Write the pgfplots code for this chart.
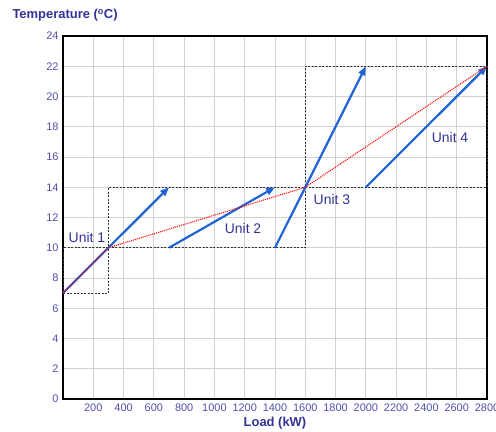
\documentclass[border=0pt]{standalone}
\usepackage{fontspec}
\setmainfont{Liberation Sans}
\usepackage{pgfplots}
\pgfplotsset{compat=1.18}
\usetikzlibrary{arrows.meta}
\definecolor{tickblue}{RGB}{80,80,175}
\definecolor{labblue}{RGB}{50,50,150}
\definecolor{arrowblue}{RGB}{30,100,210}
\begin{document}
\begin{tikzpicture}
\begin{axis}[
  name=ax,
  scale only axis, width=424bp, height=363bp,
  xmin=0, xmax=2800, ymin=0, ymax=24,
  xtick={200,400,...,2800}, ytick={0,2,...,24},
  grid=major, grid style={line width=0.8bp, color=black!18},
  axis line style={line width=1.6bp},
  major tick length=0pt,
  tick label style={font=\fontsize{11}{13}\selectfont, text=tickblue},
  /pgf/number format/assume math mode=true,
  /pgf/number format/1000 sep={},
  xticklabel style={yshift=-1bp},
  yticklabel style={xshift=-1bp},
  xlabel={\textbf{Load (kW)}},
  xlabel style={font=\fontsize{13}{15}\selectfont, text=labblue, at={(rel axis cs:0.5,0)}, anchor=center, yshift=-24bp},
  clip=false,
]
% dashed boxes
\addplot[black!80, line width=0.8bp, dash pattern=on 2bp off 1.5bp] coordinates {(0,7) (300,7) (300,10) (0,10) (0,7)};
\addplot[black!80, line width=0.8bp, dash pattern=on 2bp off 1.5bp] coordinates {(300,10) (1600,10) (1600,14) (300,14) (300,10)};
\addplot[black!80, line width=0.8bp, dash pattern=on 2bp off 1.5bp] coordinates {(1600,14) (2800,14) (2800,22) (1600,22) (1600,14)};
% arrows
\addplot[arrowblue, line width=2.2bp, -{Triangle[length=9bp,width=7bp]}] coordinates {(0,7) (700,14)};
\addplot[arrowblue, line width=2.2bp, -{Triangle[length=9bp,width=7bp]}] coordinates {(700,10) (1400,14)};
\addplot[arrowblue, line width=2.2bp, -{Triangle[length=9bp,width=7bp]}] coordinates {(1400,10) (2000,22)};
\addplot[arrowblue, line width=2.2bp, -{Triangle[length=9bp,width=7bp]}] coordinates {(2000,14) (2800,22)};
% red dotted
\addplot[red, line width=1.1bp, dash pattern=on 1bp off 1bp] coordinates {(0,7) (300,10) (1600,14) (2800,22)};
\node[text=labblue, font=\fontsize{14}{16}\selectfont] at (axis cs:158,10.7) {Unit 1};
\node[text=labblue, font=\fontsize{14}{16}\selectfont] at (axis cs:1189,11.24) {Unit 2};
\node[text=labblue, font=\fontsize{14}{16}\selectfont] at (axis cs:1776,13.2) {Unit 3};
\node[text=labblue, font=\fontsize{14}{16}\selectfont] at (axis cs:2556,17.26) {Unit 4};
\end{axis}
\node[anchor=west, text=labblue, font=\bfseries\fontsize{13}{15}\selectfont] at ([xshift=-54bp,yshift=21bp]ax.north west) {Temperature (\textsuperscript{o}C)};
\pgfresetboundingbox
\path ([xshift=-63bp,yshift=-33bp]ax.south west) rectangle ([xshift=9bp,yshift=36bp]ax.north east);
\end{tikzpicture}
\end{document}
